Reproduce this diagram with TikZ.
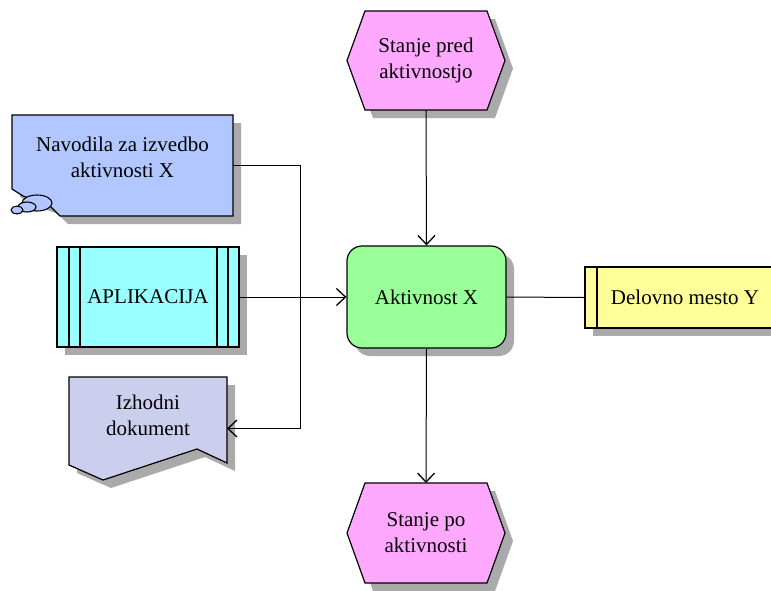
\documentclass[tikz,border=0pt]{standalone}
\usepackage{fontspec}
\setmainfont{Liberation Serif}
\usetikzlibrary{arrows.meta,shadows}

\definecolor{notecol}{RGB}{178,198,255}
\definecolor{appcol}{RGB}{153,255,255}
\definecolor{doccol}{RGB}{204,206,238}
\definecolor{statecol}{RGB}{255,168,255}
\definecolor{actcol}{RGB}{153,255,153}
\definecolor{rolecol}{RGB}{255,255,153}
\definecolor{shadowcol}{RGB}{170,170,170}

\begin{document}
\begin{tikzpicture}[x=1pt,y=-1pt,
  boxshadow/.style={drop shadow={shadow xshift=8pt,shadow yshift=-8pt,fill=shadowcol,opacity=1}},
  outline/.style={draw=black,line width=1.2pt,boxshadow},
  bubble/.style={draw=black,line width=1.1pt,fill=notecol},
  txt/.style={font=\fontsize{21}{26}\selectfont,align=center,text=black,inner sep=0pt},
  area/.style={inner sep=0pt,outer sep=0pt},
  link/.style={draw=black,line width=1pt},
  flow/.style={link,-{Straight Barb[length=9pt,width=17pt,line width=1.3pt]}}]

\useasboundingbox (0,0) rectangle (771,590);
\clip (0,0) rectangle (771,590);

% --- instructions (note with thought bubbles)
\path[outline,fill=notecol]
  (12,115) -- (233,115) -- (233,216) -- (60,216) -- (50,206)
  -- (23,196) -- (12,189) -- cycle;
\draw[bubble] (37,203) ellipse [x radius=15pt,y radius=8pt];
\draw[bubble] (27,207) ellipse [x radius=9pt,y radius=5pt];
\draw[bubble] (17,210) ellipse [x radius=6pt,y radius=3.8pt];
\node[area,minimum width=221pt,minimum height=101pt] (nav) at (122.5,165.5) {};
\node[txt] (navtext) at (122.5,157) {Navodila za izvedbo\\aktivnosti X};

% --- application system
\node[outline,fill=appcol,minimum width=182pt,minimum height=100pt,inner sep=0pt]
  (app) at (148,297) {};
\draw[line width=1.2pt] (69,247) -- (69,347) (80,247) -- (80,347)
  (217,247) -- (217,347) (228,247) -- (228,347);
\node[txt] (apptext) at (148,297) {APLIKACIJA};

% --- output document
\path[outline,fill=doccol]
  (69,377) -- (227,377) -- (227,463) -- (197,449) -- (103,480) -- (69,465) -- cycle;
\node[area,minimum width=158pt,minimum height=102pt] (izh) at (148,428.5) {};
\node[txt] (izhtext) at (148,415) {Izhodni\\dokument};

% --- events
\path[outline,fill=statecol]
  (347,60.5) -- (365,11) -- (487,11) -- (505,60.5) -- (487,110) -- (365,110) -- cycle;
\node[area,txt,minimum width=158pt,minimum height=99pt] (pre) at (426,60.5)
  {Stanje pred\\aktivnostjo};

\path[outline,fill=statecol]
  (347,533) -- (365,483) -- (487,483) -- (505,533) -- (487,583) -- (365,583) -- cycle;
\node[area,txt,minimum width=158pt,minimum height=100pt] (post) at (426,533)
  {Stanje po\\aktivnosti};

% --- function
\node[outline,fill=actcol,rounded corners=15pt,minimum width=159pt,minimum height=102pt,
  inner sep=0pt,txt] (akt) at (426.5,297) {Aktivnost X};

% --- organisational unit
\node[outline,fill=rolecol,minimum width=188pt,minimum height=61pt,inner sep=0pt]
  (role) at (679,297.5) {};
\draw[line width=1.2pt] (597,267) -- (597,328);
\node[txt] (roletext) at (685,297.5) {Delovno mesto Y};

% --- connectors
\coordinate (junc) at (300,297);
\draw[flow] (pre.south) -- (akt.north);
\draw[flow] (akt.south) -- (post.north);
\draw[link] (akt.east) -- (role.west);
\draw[flow] (app.east) -- (akt.west);
\draw[link] (nav.east) -| (junc);
\draw[flow] (junc) |- (izh.east);

\end{tikzpicture}
\end{document}
